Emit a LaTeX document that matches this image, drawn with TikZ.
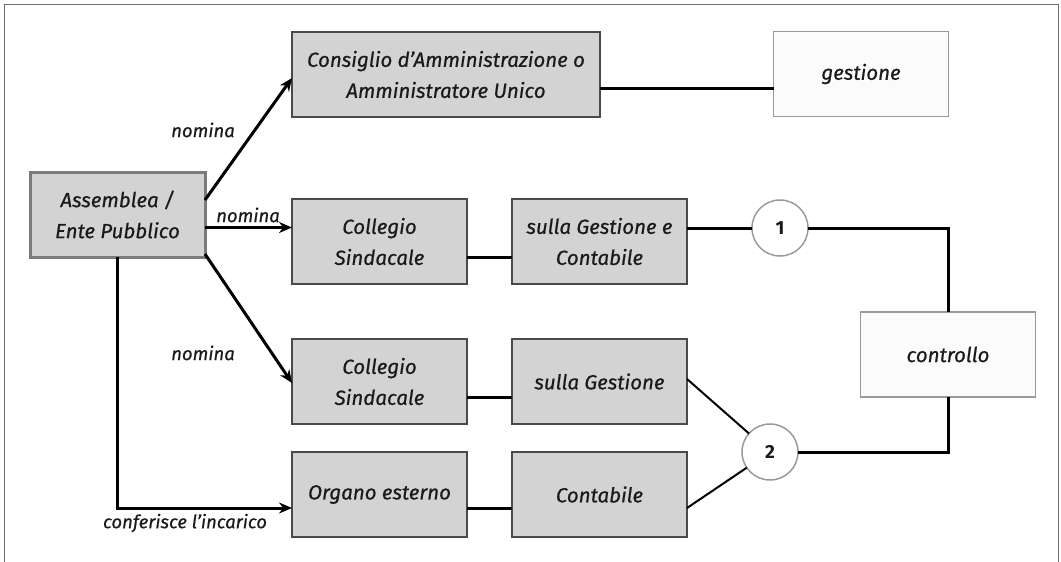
\documentclass[tikz,border=0pt]{standalone}
\usepackage{fontspec}
\setmainfont{Fira Sans}[ItalicFeatures={FakeBold=0.6}]
\usetikzlibrary{arrows.meta,calc}

\definecolor{boxfill}{HTML}{D3D3D3}
\definecolor{boxedge}{HTML}{4A4A4A}
\definecolor{lightedge}{HTML}{9A9A9A}
\definecolor{paleFill}{HTML}{FBFBFB}
\definecolor{frameedge}{HTML}{6E6E6E}
\definecolor{inktext}{HTML}{1A1A1A}

\tikzset{
  every node/.style={inner sep=0pt, outer sep=0pt, text=inktext},
  graybox/.style={draw=boxedge, fill=boxfill, line width=1.5pt,
    minimum width=175pt, minimum height=85pt, align=center,
    font=\fontsize{20.5}{31}\selectfont\itshape},
  palebox/.style={graybox, draw=lightedge, fill=paleFill},
  numcirc/.style={circle, draw=lightedge, fill=white, line width=1.5pt,
    minimum size=56pt, font=\fontsize{19}{22}\selectfont\bfseries},
  conn/.style={line width=3pt, black},
  thinconn/.style={line width=2pt, black},
  arr/.style={conn, -{Stealth[length=13pt, width=11pt]}},
  lbl/.style={font=\fontsize{18.5}{21}\selectfont\itshape},
}

\begin{document}
\begin{tikzpicture}[x=1pt, y=-1pt]
  \useasboundingbox (0,0) rectangle (1061,562);
  % outer frame, open at the bottom edge of the page
  \draw[frameedge, line width=1.5pt] (4.5,600) -- (4.5,4.5) -- (1058.5,4.5) -- (1058.5,600);

  % boxes
  \node[graybox, draw=lightedge!80!black, line width=3pt] (ass) at (117.5,214.5) {Assemblea /\\Ente Pubblico};
  \node[graybox, minimum width=308pt] (cda) at (446,74.5) {Consiglio d'Amministrazione o\\Amministratore Unico};
  \node[palebox] (gest) at (861,74) {gestione};
  \node[graybox] (cs1) at (379.5,241.5) {Collegio\\Sindacale};
  \node[graybox] (sgc) at (599.5,241.5) {sulla Gestione e\\Contabile};
  \node[graybox] (cs2) at (379.5,381.5) {Collegio\\Sindacale};
  \node[graybox] (sg) at (599.5,381.5) {sulla Gestione};
  \node[graybox] (oe) at (379.5,494.5) {Organo esterno};
  \node[graybox] (cont) at (599.5,494.5) {Contabile};
  \node[palebox] (ctrl) at (948,354.5) {controllo};

  % appointment arrows
  \draw[arr] ([yshift=-28pt]ass.north east) -- ([yshift=-3.5pt]cda.west);
  \draw[arr] ([yshift=-13pt]ass.east) -- ([yshift=-13pt]ass.east -| cs1.west);
  \draw[arr] ([yshift=3pt]ass.south east) -- ([yshift=-1.5pt]cs2.west);
  \draw[arr] (ass.south) |- ([yshift=-13.5pt]oe.west);

  % plain links
  \draw[conn] ([yshift=-13.5pt]cda.east) -- ([yshift=-13.5pt]cda.east -| gest.west);
  \draw[conn] ([yshift=-15.5pt]cs1.east) -- ([yshift=-15.5pt]cs1.east -| sgc.west);
  \draw[conn] ([yshift=-15.5pt]cs2.east) -- ([yshift=-15.5pt]cs2.east -| sg.west);
  \draw[conn] ([yshift=-13.5pt]oe.east) -- ([yshift=-13.5pt]oe.east -| cont.west);

  % numbered junctions
  \node[numcirc] (c1) at (780,228) {1};
  \node[numcirc] (c2) at (770,452) {2};
  \draw[conn] ([yshift=13.5pt]sgc.east) -- (c1.west);
  \draw[conn] (c1.east) -| (ctrl.north);
  \draw[conn] (ctrl.south) |- (c2.east);
  \draw[thinconn] ([yshift=2.5pt]sg.east) -- (c2);
  \draw[thinconn] ([yshift=-13.5pt]cont.east) -- (c2);

  % arrow labels
  \node[lbl] (l1) at (203,130) {nomina};
  \node[lbl] (l2) at (248,215) {nomina};
  \node[lbl] (l3) at (203,353) {nomina};
  \node[lbl] (l4) at (185,523) {conferisce l'incarico};
\end{tikzpicture}
\end{document}
